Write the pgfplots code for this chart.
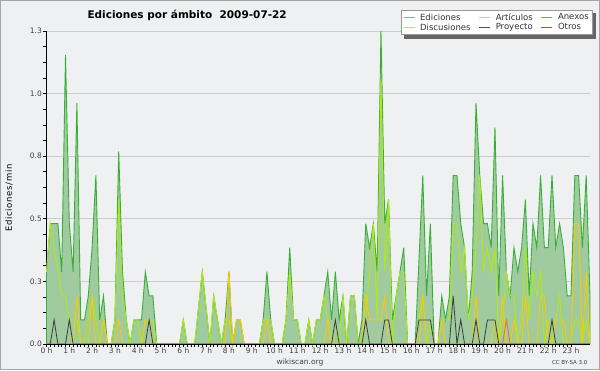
\documentclass[border=0pt]{standalone}
\usepackage{fontspec}
\setmainfont{DejaVu Sans}
\usepackage{pgfplots}
\usepackage{pgfplotstable}
\pgfplotsset{compat=1.18}
\definecolor{bgc}{RGB}{239,240,241}
\definecolor{edfill}{RGB}{160,202,160}
\definecolor{edline}{RGB}{56,176,56}
\definecolor{artc}{RGB}{176,234,20}
\definecolor{disc}{RGB}{255,200,0}
\definecolor{proj}{RGB}{60,60,60}
\definecolor{anex}{RGB}{238,110,50}
\definecolor{otros}{RGB}{150,60,230}
\definecolor{legE}{RGB}{110,195,110}
\definecolor{legA}{RGB}{180,235,40}
\definecolor{legD}{RGB}{255,205,40}
\definecolor{legP}{RGB}{80,80,80}
% i = 10-minute bin; E A D P N = edits per bin (Ediciones, Articulos, Discusiones, Proyecto, Anexos)
\pgfplotstableread{
i E A D P N
0 3 3 0 0 0
1 5 5 0 0 0
2 5 4 0 1 0
3 5 3 0 0 0
4 3 2 0 0 0
5 12 2 0 0 0
6 5 1 0 1 0
7 3 1 0 0 0
8 10 1 2 0 0
9 1 0 0 0 0
10 1 0 0 0 0
11 2 1 0 0 0
12 4 2 2 0 0
13 7 1 0 0 0
14 1 0 0 0 0
15 2 1 1 0 0
16 0 0 0 0 0
17 0 0 0 0 0
18 1 1 0 0 0
19 8 6 1 0 0
20 3 2 0 0 0
21 1 1 0 0 0
22 0 0 0 0 0
23 1 1 0 0 0
24 1 1 0 0 0
25 1 0 0 0 0
26 3 1 1 0 0
27 2 1 1 1 0
28 2 1 0 0 0
29 0 0 0 0 0
30 0 0 0 0 0
31 0 0 0 0 0
32 0 0 0 0 0
33 0 0 0 0 0
34 0 0 0 0 0
35 0 0 0 0 0
36 1 1 0 0 0
37 0 0 0 0 0
38 0 0 0 0 0
39 0 0 0 0 0
40 1.5 1.5 0 0 0
41 3 3 0 0 0
42 1.5 1.5 0 0 0
43 0 0 0 0 0
44 2 2 0 0 0
45 1 1 0 0 0
46 0 0 0 0 0
47 1 1 0 0 0
48 3 1 3 0 0
49 0 0 0 0 0
50 1 1 1 0 0
51 1 1 1 0 0
52 0 0 0 0 0
53 0 0 0 0 0
54 0 0 0 0 0
55 0 0 0 0 0
56 0 0 0 0 0
57 1 1 0 0 0
58 3 1 1 0 0
59 1 1 0 0 0
60 0 0 0 0 0
61 0 0 0 0 0
62 0 0 0 0 0
63 1 1 0 0 0
64 4 3 0 0 0
65 1 1 0 0 0
66 1 1 0 0 0
67 0 0 0 0 0
68 0 0 0 0 0
69 1 1 0 0 0
70 0 0 0 0 0
71 1 1 0 0 0
72 1 1 0 0 0
73 2 2 0 0 0
74 3 1 1 0 0
75 1 0 0 0 0
76 3 1 0 1 0
77 1 0 0 0 0
78 2 2 0 0 0
79 0 0 0 0 0
80 2 2 0 0 0
81 2 2 0 0 0
82 0 0 0 0 0
83 1 0 0 0 0
84 5 1 2 1 0
85 4 3 1 0 0
86 5 5 1 0 0
87 3 1 1 0 0
88 13 11 1 0 0
89 5 3 2 1 0
90 6 6 0 1 0
91 1 0 0 0 0
92 2 2 0 0 0
93 3 3 0 0 0
94 4 3 0 0 0
95 0 0 0 0 0
96 0 0 0 0 0
97 0 0 0 0 0
98 3.5 1 0 1 0
99 7 2 2 1 0
100 2 0 0 1 0
101 5 1 0 1 0
102 0 0 0 0 0
103 0 0 0 0 0
104 2 1 1 0 0
105 1 1 0 0 0
106 2 1 0 0 0
107 7 5 0 2 0
108 7 5 0 0 0
109 5 3 0 1 0
110 4 4 0 0 0
111 1 1 0 0 0
112 3 2 0 0 0
113 10 4 2 1 0
114 7 7 0 0 0
115 5 3 0 0 0
116 5 4 0 1 0
117 4 3 0 1 0
118 9 4 1 1 0
119 2 0 0 0 0
120 7 1 2 0 0
121 3 3 0 0 1
122 2 2 0 0 0
123 4 2 1 0 0
124 3 0 0 0 0
125 4 1 0 0 0
126 6 4 2 0 0
127 2 1 0 0 0
128 5 3 0 0 0
129 4 2 0 0 0
130 7 3 2 0 0
131 4 0 2 0 0
132 4 1 0 0 0
133 7 0 0 1 0
134 4 1 1 0 0
135 5 2 1 0 0
136 4 0 1 0 0
137 2 0 0 0 0
138 2 0 0 0 0
139 7 1 5 0 0
140 7 1 5 0 0
141 4 0 0 0 0
142 7 1 3 0 0
143 2 0 0 0 0
}\data
\begin{document}
\begin{tikzpicture}[x=1pt,y=1pt]
\fill[bgc] (0,0) rectangle (600,370);
\draw[black!35, line width=1pt] (0.5,0.5) rectangle (599.5,369.5);
\useasboundingbox (0,0) rectangle (600,370);
\begin{axis}[
  at={(46.5pt,26pt)}, anchor=south west,
  scale only axis, width=543.5pt, height=313pt,
  xmin=0, xmax=143, ymin=0, ymax=1.25,
  axis x line*=bottom, axis y line*=left,
  axis line style={-, black, line width=0.8pt},
  xtick={0,6,...,138},
  xticklabels={0 h,1 h,2 h,3 h,4 h,5 h,6 h,7 h,8 h,9 h,10 h,11 h,12 h,13 h,14 h,15 h,16 h,17 h,18 h,19 h,20 h,21 h,22 h,23 h},
  minor x tick num=5,
  ytick={0,0.25,0.5,0.75,1,1.25},
  yticklabels={0.0,0.3,0.5,0.8,1.0,1.3},
  minor y tick num=3,
  tick align=outside, major tick length=3pt, minor tick length=3pt,
  tick style={black, line width=0.7pt},
  ymajorgrids, grid style={black!20, line width=0.8pt},
  ticklabel style={font=\fontsize{7.5}{8}\selectfont, text=black!75},
  xticklabel style={inner sep=1pt},
  yticklabel style={inner sep=1.5pt},
  clip=false,
  legend columns=3,
  legend style={name=leg, at={(1.0055,1.0671)}, anchor=north east,
    draw=black!40, fill=white, line width=0.6pt,
    font=\fontsize{8.5}{9}\selectfont, text=black!80,
    inner xsep=2pt, inner ysep=1.2pt, row sep=-2.2pt,
    /tikz/every odd column/.append style={column sep=3pt},
    /tikz/every even column/.append style={column sep=6pt}},
  legend cell align=left,
  legend image code/.code={\draw[#1, line width=1.2pt] (0pt,0pt) -- (11pt,0pt);},
]
\addlegendimage{legE}\addlegendentry{Ediciones}
\addlegendimage{legA}\addlegendentry{Artículos}
\addlegendimage{anex}\addlegendentry{Anexos}
\addlegendimage{legD}\addlegendentry{Discusiones}
\addlegendimage{legP}\addlegendentry{Proyecto}
\addlegendimage{otros}\addlegendentry{Otros}
\addplot[forget plot, fill=edfill, draw=edline, line width=0.9pt] table[x=i, y expr=\thisrow{E}*0.09615] {\data} \closedcycle;
\addplot[forget plot, artc, line width=0.9pt] table[x=i, y expr=\thisrow{A}*0.09615] {\data};
\addplot[forget plot, disc, line width=0.9pt] table[x=i, y expr=\thisrow{D}*0.09615] {\data};
\addplot[forget plot, proj, line width=0.8pt] table[x=i, y expr=\thisrow{P}*0.09615] {\data};
\addplot[forget plot, anex, line width=0.8pt] table[x=i, y expr=\thisrow{N}*0.09615] {\data};
\draw[black, line width=0.8pt] (axis cs:0,0) -- (axis cs:143,0);
\end{axis}
% legend shadow (right and bottom strips)
\fill[black!60] ([xshift=3.5pt]leg.south west) rectangle ([xshift=3.5pt,yshift=-3.5pt]leg.south east);
\fill[black!60] ([yshift=-3.5pt]leg.north east) rectangle ([xshift=3.5pt]leg.south east);
\node[anchor=west, font=\bfseries\fontsize{10.5}{12}\selectfont] at (84,355) {Ediciones por ámbito\ \ 2009-07-22};
\node[rotate=90, font=\fontsize{8.5}{9}\selectfont\addfontfeatures{LetterSpace=8}] at (9,172) {Ediciones/min};
\node[font=\fontsize{7.5}{8}\selectfont, text=black!75] at (300,8) {wikiscan.org};
\node[anchor=east, font=\fontsize{5.5}{6}\selectfont, text=black!75] at (591,8) {CC BY-SA 3.0};
\end{tikzpicture}
\end{document}
